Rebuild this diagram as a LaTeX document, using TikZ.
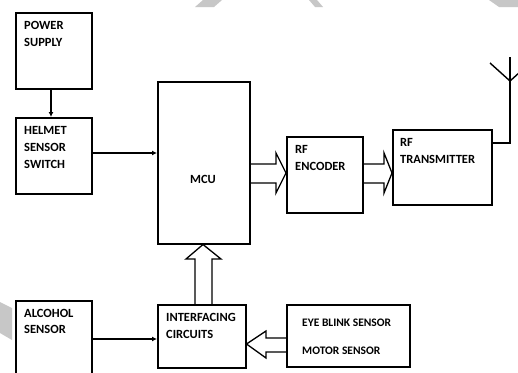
\documentclass[tikz,border=0pt]{standalone}
\usepackage{fontspec}
\setmainfont{Carlito}
\usetikzlibrary{arrows.meta}
\tikzset{
  box/.style={draw, line width=1.5pt, inner sep=0pt, anchor=north west},
  lbl/.style={inner sep=0pt, anchor=base west, font=\bfseries\fontsize{12.5}{14}\selectfont},
  slbl/.style={inner sep=0pt, anchor=base west, font=\bfseries\fontsize{11.5}{13}\selectfont},
  thin arrow/.style={line width=1.3pt, -{Latex[length=5pt,width=5pt]}},
  hollow/.style={line width=1.3pt, line join=miter},
  wm/.style={fill=black!22, draw=none}
}
\begin{document}
\begin{tikzpicture}[x=1pt,y=-1pt]
\useasboundingbox (0,0) rectangle (518,372);
\clip (0,0) rectangle (518,372);
\fill[white] (0,0) rectangle (518,372);
% watermark fragments
\fill[wm] (203,0) -- (222,0) -- (214,7) -- (195,7) -- cycle;
\fill[wm] (309,0) -- (317,0) -- (323,7) -- (315,7) -- cycle;
\fill[wm] (489,0) -- (518,0) -- (518,7) -- (499,7) -- cycle;
\fill[wm] (0,302) -- (12,308) -- (12,340) -- (0,333) -- cycle;
% boxes
\node[box, minimum width=76pt, minimum height=76pt] (ps) at (15,12) {};
\node[box, minimum width=76pt, minimum height=76pt] (hs) at (15,117) {};
\node[box, minimum width=92pt, minimum height=162pt] (mcu) at (157,81) {};
\node[box, minimum width=76pt, minimum height=76pt] (enc) at (286,136) {};
\node[box, minimum width=99pt, minimum height=75pt] (tx) at (392,129) {};
\node[box, minimum width=76pt, minimum height=90pt] (alc) at (15,300) {};
\node[box, minimum width=88pt, minimum height=63pt] (intf) at (157,304) {};
\node[box, minimum width=123pt, minimum height=62pt] (eye) at (286,304) {};
% labels
\node[lbl] (t1) at (24,29.5) {POWER};
\node[lbl] (t2) at (24,46.5) {SUPPLY};
\node[lbl] (t3) at (24,134.5) {HELMET};
\node[lbl] (t4) at (24,151.5) {SENSOR};
\node[lbl] (t5) at (24,168.5) {SWITCH};
\node[lbl, anchor=base] (t6) at (203,183) {MCU};
\node[lbl] (t7) at (295,153) {RF};
\node[lbl] (t8) at (295,170) {ENCODER};
\node[lbl] (t9) at (400,146) {RF};
\node[lbl] (t10) at (400,163) {TRANSMITTER};
\node[lbl] (t11) at (24,317) {ALCOHOL};
\node[lbl] (t12) at (24,333.5) {SENSOR};
\node[lbl] (t13) at (166,321) {INTERFACING};
\node[lbl] (t14) at (166,338) {CIRCUITS};
\node[slbl] (t15) at (302,326) {EYE BLINK SENSOR};
\node[slbl] (t16) at (302,354) {MOTOR SENSOR};
% thin arrows
\draw[thin arrow] (ps.south -| 51,0) -- (hs.north -| 51,0);
\draw[thin arrow] (hs.east |- 0,153) -- (mcu.west |- 0,153);
\draw[thin arrow] (alc.east |- 0,339) -- (intf.west |- 0,339);
% hollow arrows
\draw[hollow] (mcu.east |- 0,164) -- (276,164) -- (276,153) -- (enc.west |- 0,173)
  -- (276,193) -- (276,183) -- (mcu.east |- 0,183);
\draw[hollow] (enc.east |- 0,164) -- (384,164) -- (384,153) -- (tx.west |- 0,173)
  -- (384,193) -- (384,183) -- (enc.east |- 0,183);
\draw[hollow] (intf.north -| 195,0) -- (195,259) -- (186,259) -- (mcu.south -| 203,0)
  -- (221,259) -- (212,259) -- (intf.north -| 212,0);
\draw[hollow] (eye.west |- 0,338) -- (266,338) -- (266,331) -- (intf.east |- 0,344)
  -- (266,358) -- (266,352) -- (eye.west |- 0,352);
% antenna
\coordinate (ant) at (510,81);
\draw[line width=1.4pt] (tx.east |- 0,143) -- (510,143) -- (510,57);
\draw[line width=1.4pt] (490,63) -- (ant) -- (530,63);
\end{tikzpicture}
\end{document}
